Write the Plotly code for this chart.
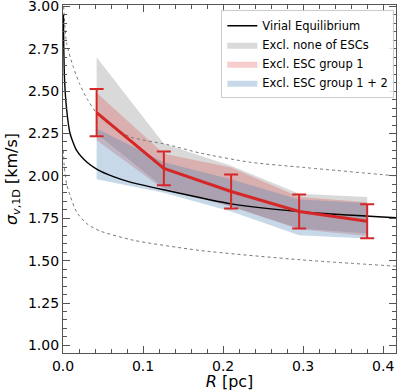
import plotly.graph_objects as go

# --- data ---
R_pts = [0.042, 0.126, 0.21, 0.295, 0.38]
sigma_mean = [2.373, 2.044, 1.908, 1.79, 1.732]
sigma_err = [0.14, 0.10, 0.10, 0.10, 0.10]

none_upper = [2.70, 2.19, 2.06, 1.895, 1.875]
none_lower = [2.25, 1.93, 1.82, 1.69, 1.66]
g1_upper = [2.49, 2.13, 2.05, 1.875, 1.845]
g1_lower = [2.21, 1.92, 1.82, 1.685, 1.645]
g12_upper = [2.28, 2.08, 1.98, 1.86, 1.84]
g12_lower = [1.98, 1.90, 1.79, 1.65, 1.63]

vir_R = [0.0005, 0.001, 0.002, 0.0046, 0.0088, 0.017, 0.03, 0.042, 0.063, 0.084, 0.126, 0.21, 0.3, 0.416]
vir_sigma = [2.95, 2.75, 2.56, 2.39, 2.25, 2.15, 2.08, 2.04, 1.995, 1.963, 1.918, 1.835, 1.787, 1.753]

up_R = [0.0008, 0.0046, 0.013, 0.021, 0.03, 0.042, 0.059, 0.084, 0.13, 0.171, 0.234, 0.3, 0.416]
up_sigma = [3.0, 2.78, 2.64, 2.54, 2.455, 2.37, 2.30, 2.23, 2.185, 2.135, 2.08, 2.05, 2.0]

lo_R = [0.0005, 0.0015, 0.0046, 0.0088, 0.017, 0.03, 0.046, 0.088, 0.171, 0.296, 0.42]
lo_sigma = [2.15, 2.06, 1.95, 1.885, 1.786, 1.717, 1.675, 1.62, 1.56, 1.505, 1.466]

x_ticks = [0.0, 0.1, 0.2, 0.3, 0.4]
y_ticks = [1.00, 1.25, 1.50, 1.75, 2.00, 2.25, 2.50, 2.75, 3.00]

fig = go.Figure()

def band(upper, lower, color, name, rank):
    fig.add_trace(go.Scatter(
        x=R_pts + R_pts[::-1], y=upper + lower[::-1],
        fill="toself", fillcolor=color, line=dict(width=0, color=color),
        mode="lines", name=name, legendrank=rank, hoverinfo="skip"))

band(none_upper, none_lower, "rgba(128,128,128,0.3)", "Excl. none of ESCs", 2)
band(g1_upper, g1_lower, "rgba(220,50,50,0.25)", "Excl. ESC group 1", 3)
band(g12_upper, g12_lower, "rgba(70,130,180,0.3)", "Excl. ESC group 1 + 2", 4)

fig.add_trace(go.Scatter(x=up_R, y=up_sigma, mode="lines",
                         line=dict(color="#777777", width=1, dash="dot", shape="spline", smoothing=0.6),
                         showlegend=False))
fig.add_trace(go.Scatter(x=lo_R, y=lo_sigma, mode="lines",
                         line=dict(color="#777777", width=1, dash="dot", shape="spline", smoothing=0.6),
                         showlegend=False))
fig.add_trace(go.Scatter(x=vir_R, y=vir_sigma, mode="lines",
                         line=dict(color="black", width=1.4, shape="spline", smoothing=0.6),
                         name="Virial Equilibrium", legendrank=1))

fig.add_trace(go.Scatter(x=R_pts, y=sigma_mean, mode="lines",
                         line=dict(color="#d62728", width=3),
                         error_y=dict(type="data", array=sigma_err, color="#d62728",
                                      thickness=2, width=7),
                         showlegend=False))

axis_common = dict(
    showgrid=False, zeroline=False, showline=True, linecolor="#555555", linewidth=1.2,
    mirror="allticks", ticks="inside", ticklen=7, tickwidth=1, tickcolor="#555555",
    tickfont=dict(family="DejaVu Sans", size=14, color="black"), automargin=False,
    ticklabeloverflow="allow",
)

fig.update_xaxes(
    range=[0, 0.416], tickvals=x_ticks, ticktext=[f"{v:.1f}" for v in x_ticks],
    minor=dict(dtick=0.02, ticks="inside", ticklen=3.5, tickcolor="#555555", showgrid=False),
    title=dict(text="<i>R</i> [pc]", font=dict(family="DejaVu Sans", size=16, color="black"),
               standoff=0),
    **axis_common)
fig.update_yaxes(
    range=[0.955, 3.008], tickvals=y_ticks, ticktext=[f"{v:.2f}" for v in y_ticks],
    minor=dict(dtick=0.05, tick0=0, ticks="inside", ticklen=3.5, tickcolor="#555555", showgrid=False),
    title=dict(text="<i>σ</i><sub><i>v</i>,1D</sub> [km/s]",
               font=dict(family="DejaVu Sans", size=16, color="black"), standoff=6),
    **axis_common)

fig.update_layout(
    width=400, height=391,
    margin=dict(l=63, r=4, t=5, b=38),
    plot_bgcolor="white", paper_bgcolor="white",
    font=dict(family="DejaVu Sans", color="black"),
    legend=dict(x=0.995, y=0.985, xanchor="right", yanchor="top",
                bgcolor="rgba(255,255,255,0.85)", bordercolor="#cccccc", borderwidth=1,
                font=dict(family="DejaVu Sans", size=11.5), tracegroupgap=0,
                itemwidth=30),
)

fig.write_html("out.html", config={"displayModeBar": False},
               post_script="document.body.style.margin='0';document.body.style.overflow='hidden';")
